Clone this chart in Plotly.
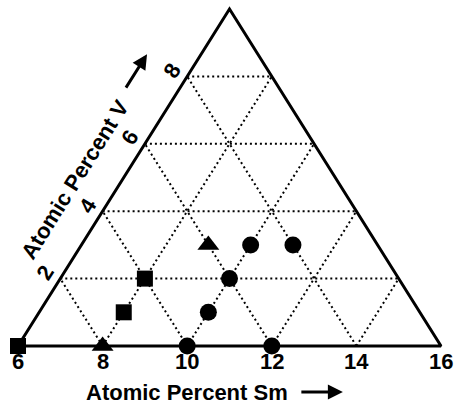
import plotly.graph_objects as go

# ---- data (Sm at.%, V at.%) ----
square_sm = [6, 8, 8]
square_v = [0, 1, 2]
triangle_sm = [8, 9]
triangle_v = [0, 3]
circle_sm = [10, 12, 10, 10, 10, 11]
circle_v = [0, 0, 1, 2, 3, 3]

sm_ticks = [6, 8, 10, 12, 14, 16]
v_ticks = [2, 4, 6, 8]
grid_vals = [8, 10, 12, 14]

SM_MIN, SM_MAX = 6, 16
V_MAX = SM_MAX - SM_MIN  # 10


def tx(sm, v):
    # horizontal position in the triangle (Sm scale along the base)
    return sm + v / 2.0


fig = go.Figure()

# dotted grid
gx, gy = [], []
for v in v_ticks:  # constant V
    gx += [tx(SM_MIN, v), tx(SM_MAX - v, v), None]
    gy += [v, v, None]
for s in grid_vals:  # constant Sm
    gx += [tx(s, 0), tx(s, SM_MAX - s), None]
    gy += [0, SM_MAX - s, None]
for s in grid_vals:  # constant Sm+V
    gx += [tx(s, 0), tx(SM_MIN, s - SM_MIN), None]
    gy += [0, s - SM_MIN, None]
fig.add_trace(go.Scatter(x=gx, y=gy, mode="lines",
                         line=dict(color="black", width=2, dash="2px,3px"),
                         hoverinfo="skip", showlegend=False))

# triangle outline
fig.add_trace(go.Scatter(x=[tx(SM_MIN, 0), tx(SM_MAX, 0), tx(SM_MIN, V_MAX), tx(SM_MIN, 0)],
                         y=[0, 0, V_MAX, 0], mode="lines",
                         line=dict(color="black", width=3),
                         hoverinfo="skip", showlegend=False))

# markers
fig.add_trace(go.Scatter(x=[tx(s, v) for s, v in zip(square_sm, square_v)], y=square_v,
                         mode="markers", cliponaxis=False,
                         marker=dict(symbol="square", size=16, color="black"), showlegend=False))
fig.add_trace(go.Scatter(x=[tx(s, v) for s, v in zip(triangle_sm, triangle_v)], y=triangle_v,
                         mode="markers", cliponaxis=False,
                         marker=dict(symbol="triangle-up", size=19, color="black"), showlegend=False))
fig.add_trace(go.Scatter(x=[tx(s, v) for s, v in zip(circle_sm, circle_v)], y=circle_v,
                         mode="markers", cliponaxis=False,
                         marker=dict(symbol="circle", size=17, color="black"), showlegend=False))

FONT = "Liberation Sans, Arial, sans-serif"
ann = []
# bottom tick labels
for s in sm_ticks:
    ann.append(dict(x=s, y=-0.47, text="<b>%d</b>" % s, showarrow=False,
                    font=dict(family=FONT, size=22, color="black"),
                    xanchor="center", yanchor="middle"))
# left edge tick labels
for v in v_ticks:
    ann.append(dict(x=tx(SM_MIN, v), y=v, text="<b>%d</b>" % v, showarrow=False,
                    font=dict(family=FONT, size=22, color="black"), textangle=-58,
                    xanchor="center", yanchor="middle", xshift=-15, yshift=6))
# axis titles
ann.append(dict(x=10.0, y=-1.39, text="<b>Atomic Percent Sm</b>", showarrow=False,
                font=dict(family=FONT, size=22, color="black"),
                xanchor="center", yanchor="middle"))
ann.append(dict(x=13.68, y=-1.365, text="", showarrow=True, arrowhead=2, arrowsize=1,
                arrowwidth=3, arrowcolor="black", ax=-43, ay=0, standoff=0))
ann.append(dict(x=7.35, y=4.93, text="<b>Atomic Percent V</b>", showarrow=False,
                font=dict(family=FONT, size=22, color="black"), textangle=-58,
                xanchor="center", yanchor="middle"))
ann.append(dict(x=9.05, y=8.66, text="", showarrow=True, arrowhead=2, arrowsize=1,
                arrowwidth=3, arrowcolor="black", ax=-22, ay=35, standoff=0))

fig.update_layout(
    width=455, height=409,
    margin=dict(l=0, r=0, t=0, b=0),
    paper_bgcolor="white", plot_bgcolor="white",
    xaxis=dict(range=[6 - 18 / 42.3, 6 + 437 / 42.3], visible=False, fixedrange=True),
    yaxis=dict(range=[-63 / 33.7, 346 / 33.7], visible=False, fixedrange=True),
    annotations=ann,
    showlegend=False,
)

fig.write_html("out.html", config={"displayModeBar": False},
               post_script="document.body.style.margin='0';")
